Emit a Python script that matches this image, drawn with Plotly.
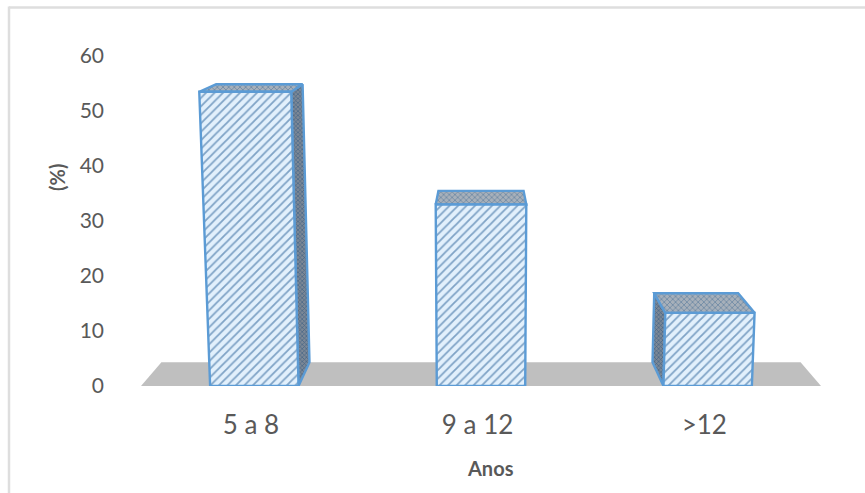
import plotly.graph_objects as go

categories = ["5 a 8", "9 a 12", ">12"]
values = [53.5, 33, 13.3]
y_ticks = [0, 10, 20, 30, 40, 50, 60]

BAR_WIDTH = 0.39
SPREAD = 0.00075      # vertical edges lean outwards with height
SHRINK = 0.06         # depth narrows the box towards the middle
DEPTH_BASE = 4.3      # depth lift at the floor, in value units
DEPTH_FALL = 0.055    # depth lift shrinks as the viewpoint level is approached

LINE = "#5B9BD5"
FLOOR = "#BFBFBF"
TEXT = "#595959"
FRAME = "#DEDEDE"

# plot area in pixels
LEFT, RIGHT, TOP, BOTTOM = 141, 821, 56, 386


def paper_x(px):
    return (px - LEFT) / (RIGHT - LEFT)


def paper_y(py):
    return (BOTTOM - py) / (BOTTOM - TOP)


def project(x, h, d):
    """Perspective position of a point at height h and depth d (0 front, 1 back)."""
    px = x * (1 + SPREAD * h) * (1 - SHRINK * d)
    py = h + d * (DEPTH_BASE - DEPTH_FALL * h)
    return px, py


def face(points, bg, fg, shape, size, solidity, line=True):
    xy = [project(*p) for p in points]
    xy.append(xy[0])
    return go.Scatter(
        x=[p[0] for p in xy],
        y=[p[1] for p in xy],
        mode="lines",
        fill="toself",
        fillcolor=bg,
        fillpattern=dict(shape=shape, bgcolor=bg, fgcolor=fg, size=size, solidity=solidity, fillmode="replace")
        if shape else None,
        line=dict(color=LINE if line else FLOOR, width=2.4 if line else 0),
        hoverinfo="skip",
        showlegend=False,
        cliponaxis=False,
    )


fig = go.Figure()

# floor plane
fig.add_trace(face([(-1.5, 0, 0), (1.5, 0, 0), (1.5, 0, 1), (-1.5, 0, 1)], FLOOR, FLOOR, "", 8, 0.3, line=False))

for i, v in enumerate(values):
    c = i - 1
    x0, x1 = c - BAR_WIDTH / 2, c + BAR_WIDTH / 2
    # side wall facing the middle of the chart
    if c != 0:
        sx = x1 if c < 0 else x0
        fig.add_trace(face([(sx, 0, 0), (sx, v, 0), (sx, v, 1), (sx, 0, 1)],
                           "#7C8896", "#3E5F82", "x", 3, 0.35))
    # top lid
    fig.add_trace(face([(x0, v, 0), (x1, v, 0), (x1, v, 1), (x0, v, 1)],
                       "#A7B0BA", "#5E7E9E", "x", 4, 0.3))
    # front face
    fig.add_trace(face([(x0, 0, 0), (x1, 0, 0), (x1, v, 0), (x0, v, 0)],
                       "#E2F0FC", "#7FA3C6", "/", 6, 0.3))

fig.update_layout(
    width=865,
    height=493,
    autosize=False,
    margin=dict(l=LEFT, r=865 - RIGHT, t=TOP, b=493 - BOTTOM),
    paper_bgcolor="white",
    plot_bgcolor="rgba(0,0,0,0)",
    font=dict(family="Lato, sans-serif", color=TEXT),
    showlegend=False,
    shapes=[
        dict(type="line", xref="paper", yref="paper", layer="below",
             x0=paper_x(9), x1=paper_x(865), y0=paper_y(7.5), y1=paper_y(7.5),
             line=dict(color=FRAME, width=2.5)),
        dict(type="line", xref="paper", yref="paper", layer="below",
             x0=paper_x(9), x1=paper_x(9), y0=paper_y(6.5), y1=paper_y(493),
             line=dict(color=FRAME, width=2.5)),
    ],
    annotations=[
        dict(text="<b>Anos</b>", xref="paper", yref="paper", x=paper_x(490.5), y=paper_y(468),
             xanchor="center", yanchor="middle", showarrow=False, font=dict(size=20, color=TEXT)),
        dict(text="<b>(%)</b>", xref="paper", yref="paper", x=paper_x(57), y=paper_y(178),
             xanchor="center", yanchor="middle", textangle=-90, showarrow=False,
             font=dict(size=20, color=TEXT)),
    ],
)
fig.update_xaxes(
    range=[-1.5, 1.5],
    tickmode="array",
    tickvals=[i - 1.015 for i in range(len(categories))],
    ticktext=categories,
    tickfont=dict(size=26),
    showgrid=False,
    zeroline=False,
    showline=False,
    ticks="",
    ticklabelstandoff=21,
)
fig.update_yaxes(
    range=[0, 60],
    tickmode="array",
    tickvals=y_ticks,
    tickfont=dict(size=21),
    showgrid=False,
    zeroline=False,
    showline=False,
    ticks="",
    ticklabelstandoff=36,
)

fig.write_html("out.html", config=dict(displayModeBar=False))
